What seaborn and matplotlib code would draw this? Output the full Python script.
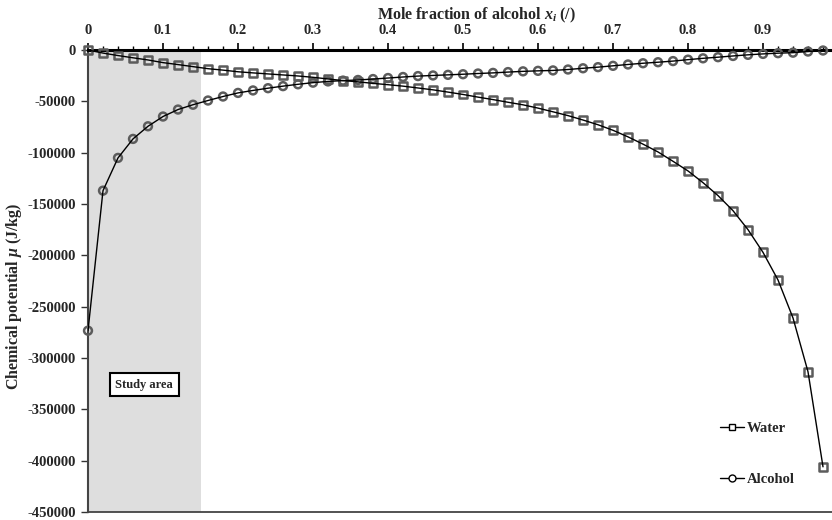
import matplotlib
matplotlib.use("Agg")
import matplotlib.pyplot as plt
from matplotlib.lines import Line2D
from matplotlib.ticker import MultipleLocator, FuncFormatter
import pandas as pd
import seaborn as sns

# --- stile ---
sns.set_theme(style="ticks")
plt.rcParams["font.family"] = ["Liberation Serif", "DejaVu Serif"]
plt.rcParams["font.weight"] = "bold"
plt.rcParams["axes.unicode_minus"] = False
plt.rcParams["mathtext.fontset"] = "custom"
plt.rcParams["mathtext.it"] = "Liberation Serif:italic:bold"
plt.rcParams["mathtext.rm"] = "Liberation Serif:bold"

# --- dati ---
mole_fraction = [
    0.00, 0.02, 0.04, 0.06, 0.08, 0.10, 0.12, 0.14, 0.16, 0.18,
    0.20, 0.22, 0.24, 0.26, 0.28, 0.30, 0.32, 0.34, 0.36, 0.38,
    0.40, 0.42, 0.44, 0.46, 0.48, 0.50, 0.52, 0.54, 0.56, 0.58,
    0.60, 0.62, 0.64, 0.66, 0.68, 0.70, 0.72, 0.74, 0.76, 0.78,
    0.80, 0.82, 0.84, 0.86, 0.88, 0.90, 0.92, 0.94, 0.96, 0.98,
]
mu_water = [
    0, -3000, -5400, -7600, -9700, -12300, -14200, -16200, -18200, -19600,
    -21200, -22300, -23300, -24300, -25300, -26600, -28200, -29800, -31000, -32500,
    -33800, -35200, -37000, -38800, -41000, -43300, -45900, -48300, -50900, -53400,
    -56600, -60200, -63900, -68200, -72800, -78200, -84600, -91700, -99300, -108400,
    -117800, -129200, -141800, -156500, -175000, -197100, -224000, -261000, -313400, -406000,
]
mu_alcohol = [
    -273400, -137000, -105100, -86600, -74300, -64800, -58000, -53300, -49200, -45300,
    -41800, -39400, -37200, -35200, -33400, -31800, -30600, -29800, -29200, -28300,
    -27300, -26300, -25400, -24800, -24200, -23600, -22900, -22300, -21500, -20800,
    -20300, -19900, -19000, -17800, -16700, -15400, -14100, -12900, -11900, -10800,
    -9400, -8100, -7000, -5800, -4700, -3800, -3100, -2600, -1500, -500,
]
species = ["Water", "Alcohol"]
study_area = (0.0, 0.15)

df = pd.DataFrame({
    "x": mole_fraction + mole_fraction,
    "mu": mu_water + mu_alcohol,
    "species": [species[0]] * len(mu_water) + [species[1]] * len(mu_alcohol),
})

fig, ax = plt.subplots(figsize=(8.32, 5.2), dpi=100)
fig.subplots_adjust(left=88 / 832, right=1.0, top=1 - 50 / 520, bottom=1 - 512 / 520)

# area di studio
ax.axvspan(*study_area, color="#dedede", lw=0, zorder=0)

# marker grigi vuoti
sns.scatterplot(
    data=df, x="x", y="mu", style="species",
    markers={"Water": "s", "Alcohol": "o"},
    s=32, facecolor="none", edgecolor="#5c5c5c", linewidth=1.8,
    legend=False, clip_on=False, zorder=3, ax=ax,
)
# linee nere sopra i marker
sns.lineplot(
    data=df, x="x", y="mu", hue="species",
    palette={"Water": "black", "Alcohol": "black"},
    estimator=None, lw=1.0, legend=False, zorder=4, ax=ax,
)

# assi
ax.set_xlim(0, 0.992)
ax.set_ylim(-450000, 0)
ax.xaxis.tick_top()
ax.xaxis.set_label_position("top")
ax.xaxis.set_major_locator(MultipleLocator(0.1))
ax.xaxis.set_minor_locator(MultipleLocator(0.02))
ax.xaxis.set_major_formatter(FuncFormatter(lambda v, p: "0" if abs(v) < 1e-9 else f"{v:.1f}"))
ax.yaxis.set_major_locator(MultipleLocator(50000))
ax.yaxis.set_major_formatter(FuncFormatter(lambda v, p: f"{int(round(v))}"))

ax.tick_params(axis="x", which="major", direction="out", length=5, width=1.2,
               pad=4.5, labelsize=10.5, color="black")
ax.tick_params(axis="x", which="minor", direction="out", length=3, width=1.0, color="black")
ax.tick_params(axis="y", direction="out", length=5, width=1.0, pad=4,
               labelsize=10.5, color="#333333")
for lab in ax.get_xticklabels() + ax.get_yticklabels():
    lab.set_fontweight("bold")

ax.spines["right"].set_visible(False)
ax.spines["top"].set_color("black")
ax.spines["top"].set_linewidth(2.2)
ax.spines["left"].set_color("#444444")
ax.spines["left"].set_linewidth(1.5)
ax.spines["bottom"].set_color("#444444")
ax.spines["bottom"].set_linewidth(1.3)

ax.set_xlabel("Mole fraction of alcohol $x_i$ (/)", fontsize=11.5, fontweight="bold")
ax.xaxis.set_label_coords(0.5215, 1.066)
ax.set_ylabel("Chemical potential $\\mu$ (J/kg)", fontsize=11.5, fontweight="bold")
ax.yaxis.set_label_coords(-0.086, 0.4675)

ax.text(
    0.0747, -326000, "Study area", ha="center", va="center",
    fontsize=9, fontweight="bold", zorder=5,
    bbox=dict(boxstyle="square,pad=0.45", fc="white", ec="black", lw=1.5),
)

# legenda
handles = [
    Line2D([0], [0], color="black", lw=1, marker="s", markersize=5,
           mfc="white", mec="black", mew=1),
    Line2D([0], [0], color="black", lw=1, marker="o", markersize=5,
           mfc="white", mec="black", mew=1),
]
ax.legend(
    handles, species, loc="upper left", bbox_to_anchor=(0.849, 0.196),
    frameon=False, borderpad=0, borderaxespad=0, handlelength=1.65,
    handletextpad=0.2, labelspacing=2.6, prop={"weight": "bold", "size": 10.5},
)

plt.savefig("out.png", dpi=100)
